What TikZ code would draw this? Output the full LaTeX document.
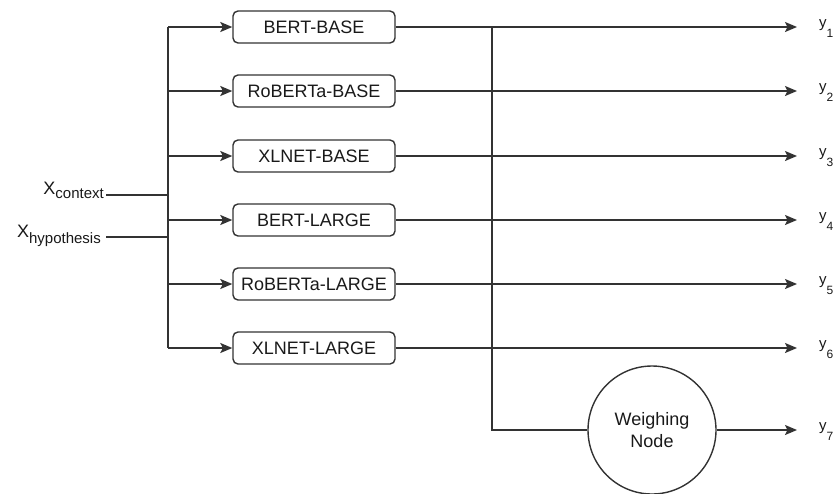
\documentclass[tikz,border=0pt]{standalone}
\usepackage{fontspec}
\setmainfont{Liberation Sans}
\usetikzlibrary{positioning, arrows.meta, calc}
\newcommand{\lowsub}[2]{\raisebox{-#1}{\fontsize{15}{15}\selectfont #2}}
\newcommand{\outsub}[1]{\raisebox{-10pt}{\fontsize{12}{12}\selectfont #1}}
\tikzset{
  model/.style={draw=black!80, rounded corners=5pt, line width=1.4pt, minimum width=162pt,
    minimum height=32pt, inner sep=0pt, text=black!90, font=\fontsize{18}{20}\selectfont},
  link/.style={draw=black!80, line width=1.5pt},
  feed/.style={link, -{Stealth[length=12pt,width=10pt,inset=2.5pt]}},
  inlab/.style={anchor=east, inner sep=0pt, text=black!90, font=\fontsize{18}{20}\selectfont},
  outlab/.style={anchor=west, inner sep=0pt, text=black!90, font=\fontsize{15}{16}\selectfont},
  weigh/.style={draw=black!80, circle, line width=1.4pt, minimum size=128pt, inner sep=0pt,
    align=center, text=black!90, font=\fontsize{18}{22}\selectfont}
}
\begin{document}
\begin{tikzpicture}[x=1pt,y=-1pt]
    \useasboundingbox (0,0) rectangle (840,493);

    % Models
    \foreach \name/\txt/\yy in {bb/BERT-BASE/27, rb/RoBERTa-BASE/91, xb/XLNET-BASE/156,
                                bl/BERT-LARGE/220, rl/RoBERTa-LARGE/284, xl/XLNET-LARGE/348}
        \node[model] (\name) at (314,\yy) {\txt};

    % Weighing node
    \node[weigh] (wn) at (652,430) {Weighing\\Node};

    % Inputs
    \node[inlab] (ctx) at (104,190) {X\lowsub{4pt}{context}};
    \node[inlab] (hyp) at (101,236) {X\lowsub{6pt}{hypothesis}};
    \coordinate (lbus) at (168,0);
    \coordinate (rbus) at (492,0);
    \draw[link] (lbus |- bb) -- (lbus |- xl);
    \draw[link] ($(ctx.east |- 0,195)+(2,0)$) -- (lbus |- 0,195);
    \draw[link] ($(hyp.east |- 0,237)+(5,0)$) -- (lbus |- 0,237);
    \foreach \name in {bb, rb, xb, bl, rl, xl}
        \draw[feed] (lbus |- \name) -- (\name.west);

    % Outputs
    \foreach \name/\i/\yy in {bb/1/27, rb/2/91, xb/3/156, bl/4/220, rl/5/284, xl/6/348} {
        \node[outlab] (y\i) at (819,\yy+2) {y\outsub{\i}};
        \draw[feed] (\name.east) -- (\name.east -| 797,0);
    }
    \node[outlab] (y7) at (819,432) {y\outsub{7}};
    \draw[link] (rbus |- bb) -- (rbus |- wn) -- (wn.west);
    \draw[feed] (wn.east) -- (wn.east -| 797,0);
\end{tikzpicture}
\end{document}
